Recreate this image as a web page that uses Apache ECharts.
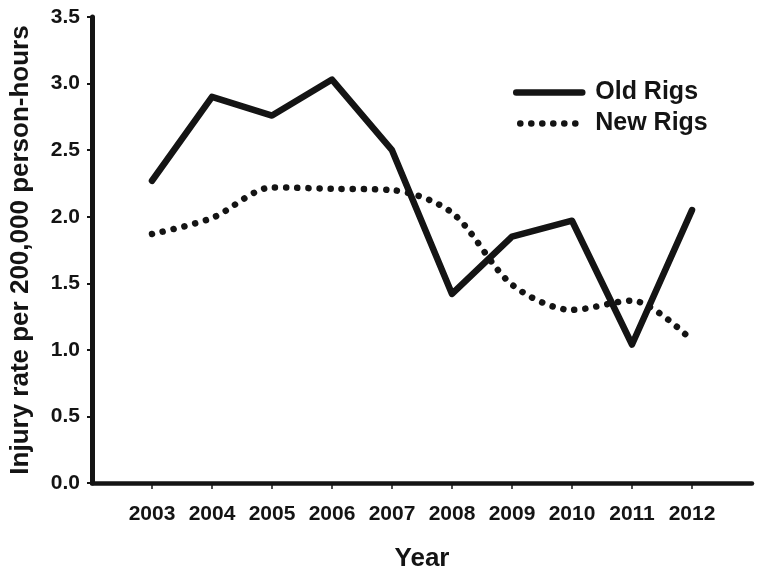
<!DOCTYPE html>
<html>
<head>
<meta charset="utf-8">
<script src="https://cdn.jsdelivr.net/npm/echarts@6/dist/echarts.min.js"></script>
<style>
html,body{margin:0;padding:0;background:#fff;}
#c{width:764px;height:578px;}
</style>
</head>
<body>
<div id="c"></div>
<script>
var years = ['2003','2004','2005','2006','2007','2008','2009','2010','2011','2012'];
var oldRigs = [2.27, 2.90, 2.76, 3.03, 2.50, 1.42, 1.85, 1.97, 1.04, 2.05];
var newRigs = [1.87, 1.99, 2.22, 2.21, 2.20, 2.03, 1.49, 1.30, 1.37, 1.07];
var yTicks = [0, 0.5, 1.0, 1.5, 2.0, 2.5, 3.0, 3.5];

var cats = [''].concat(years, ['']);
function pad(arr){ return [null].concat(arr, [null]); }
var inner = function(i){ return i > 0 && i < cats.length - 1; };
var ink = '#141414';
var font = '"Liberation Sans", Arial, sans-serif';

var chart = echarts.init(document.getElementById('c'));
chart.setOption({
  animation: false,
  backgroundColor: '#fff',
  grid: { left: 92, right: 12, top: 17, bottom: 95, containLabel: false, outerBoundsMode: 'none' },
  legend: {
    orient: 'vertical',
    left: 508, top: 75,
    itemWidth: 66, itemHeight: 20, itemGap: 6,
    data: [
      { name: 'Old Rigs', itemStyle: { opacity: 0 }, lineStyle: { width: 6.5, cap: 'round', color: ink } },
      { name: 'New Rigs', itemStyle: { opacity: 0 }, lineStyle: { width: 6.5, type: [0.1, 10.9], dashOffset: -4, cap: 'round', color: ink } }
    ],
    textStyle: { fontFamily: font, fontWeight: 'bold', fontSize: 25, lineHeight: 25, color: ink, padding: [0, 0, 0, 8] }
  },
  xAxis: {
    type: 'category',
    boundaryGap: false,
    data: cats,
    name: 'Year',
    nameLocation: 'middle',
    nameGap: 63,
    nameTextStyle: { fontFamily: font, fontWeight: 'bold', fontSize: 26, color: ink },
    axisLine: { lineStyle: { color: ink, width: 4.5, cap: 'round' } },
    axisTick: { interval: inner, length: 6, lineStyle: { color: ink, width: 1.5 } },
    axisLabel: { interval: inner, margin: 21, fontFamily: font, fontWeight: 'bold', fontSize: 21, color: ink },
    splitLine: { show: false }
  },
  yAxis: {
    type: 'value',
    min: yTicks[0], max: yTicks[yTicks.length - 1], interval: 0.5,
    name: 'Injury rate per 200,000 person-hours',
    nameLocation: 'middle',
    nameGap: 58,
    nameTextStyle: { fontFamily: font, fontWeight: 'bold', fontSize: 26, color: ink },
    axisLine: { show: true, lineStyle: { color: ink, width: 5, cap: 'round' } },
    axisTick: { show: true, length: 5, lineStyle: { color: ink, width: 2 } },
    axisLabel: { margin: 12, fontFamily: font, fontWeight: 'bold', fontSize: 21, color: ink,
      formatter: function(v){ return v.toFixed(1); } },
    splitLine: { show: false }
  },
  series: [
    {
      name: 'Old Rigs', type: 'line', data: pad(oldRigs),
      symbol: 'none', showSymbol: false,
      itemStyle: { color: ink },
      lineStyle: { color: ink, width: 6.5, cap: 'round', join: 'round' }
    },
    {
      name: 'New Rigs', type: 'line', data: pad(newRigs),
      symbol: 'none', showSymbol: false, smooth: 0.3,
      itemStyle: { color: ink },
      lineStyle: { color: ink, width: 6.5, type: [0.1, 11], cap: 'round' }
    }
  ]
});
</script>
</body>
</html>
